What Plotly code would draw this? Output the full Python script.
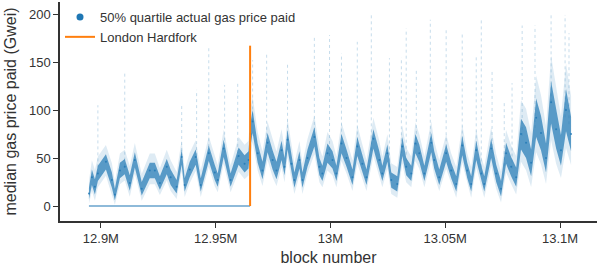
import numpy as np
import plotly.graph_objects as go

# block numbers (thousands) and typical median gas price (Gwei)
blocks_k = [12894.8, 12896.1, 12897.4, 12898.7, 12902.2, 12904.8, 12906.1, 12908.3, 12910.4, 12912.6,
            12914.8, 12917.8, 12921.3, 12923.5, 12925.7, 12928.7, 12930.4, 12933.0, 12935.2, 12936.5,
            12938.7, 12941.3, 12943.5, 12947.0, 12949.6, 12950.9, 12953.5, 12956.5, 12960.0, 12962.6,
            12964.3, 12965.2, 12966.1, 12968.3, 12970.4, 12972.6, 12974.8, 12976.5, 12978.7, 12980.0,
            12981.3, 12983.0, 12984.3, 12986.5, 12987.8, 12990.0, 12993.0, 12995.2, 12996.5, 12998.7,
            13000.9, 13002.6, 13004.8, 13007.0, 13009.6, 13011.7, 13013.9, 13015.7, 13018.7, 13021.3,
            13022.6, 13024.8, 13026.5, 13029.1, 13031.3, 13033.0, 13035.2, 13037.0, 13038.7, 13040.9,
            13043.9, 13045.2, 13047.4, 13050.4, 13052.6, 13054.8, 13057.4, 13059.6, 13061.3, 13063.5,
            13065.7, 13067.0, 13070.0, 13072.2, 13074.3, 13076.5, 13078.7, 13080.9, 13083.0, 13085.2,
            13087.4, 13089.6, 13091.7, 13093.9, 13096.1, 13098.3, 13100.4, 13102.6, 13104.8]
median_gwei = [13, 30, 20, 34, 46, 27, 12, 37, 41, 24,
               48, 18, 37, 37, 24, 41, 30, 20, 51, 22,
               38, 51, 22, 55, 35, 27, 60, 27, 52, 44,
               48, 75, 88, 55, 37, 66, 48, 37, 58, 41,
               69, 44, 27, 48, 27, 50, 72, 41, 34, 55,
               48, 34, 65, 50, 30, 62, 44, 30, 70, 48,
               34, 55, 27, 23, 62, 41, 34, 65, 55, 34,
               66, 48, 30, 55, 37, 23, 63, 37, 23, 58,
               34, 23, 60, 34, 18, 55, 41, 30, 75, 66,
               45, 92, 76, 50, 108, 80, 58, 100, 75]
spread_gwei = [6, 8, 8, 8, 8, 8, 6, 8, 8, 8,
               8, 7, 8, 8, 7, 8, 8, 7, 8, 7,
               8, 8, 7, 8, 8, 7, 9, 7, 9, 9,
               9, 12, 12, 10, 9, 10, 10, 9, 10, 9,
               10, 9, 8, 9, 8, 9, 10, 9, 8, 10,
               9, 8, 10, 9, 8, 10, 9, 8, 10, 9,
               8, 9, 8, 8, 10, 9, 8, 10, 9, 8,
               10, 9, 8, 9, 8, 8, 10, 8, 8, 10,
               8, 8, 10, 9, 8, 11, 10, 10, 16, 16,
               14, 20, 18, 15, 22, 20, 16, 22, 18]

# sparse upward streaks of individual blocks
spike_blocks_k = [12898.7, 12910.4, 12935.2, 12941.7, 12947.0, 12953.9, 12959.6, 12966.1, 12972.2, 12981.3,
                  12993.0, 12999.6, 13004.8, 13011.7, 13017.8, 13025.7, 13030.9, 13033.0, 13037.4, 13043.5,
                  13050.4, 13057.4, 13063.5, 13065.7, 13070.4, 13075.7, 13079.1, 13083.5, 13089.1, 13096.1,
                  13102.2, 13103.9]
spike_top_gwei = [105, 140, 107, 121, 165, 126, 130, 152, 159, 149,
                  176, 178, 159, 171, 199, 154, 155, 185, 142, 194,
                  183, 180, 157, 196, 142, 110, 128, 188, 188, 199,
                  199, 180]

# zero-price transactions before London
zero_blocks_k = [12894.8, 12965.0]
zero_gwei = [0, 0]

london_block_k = 12965.0
london_range_gwei = [0, 167]

tick_vals_k = [12900, 12950, 13000, 13050, 13100]
tick_text = ["12.9M", "12.95M", "13M", "13.05M", "13.1M"]

BLUE = "#1f77b4"
ORANGE = "#ff7f0e"

x = np.array(blocks_k) * 1000
med = np.array(median_gwei, dtype=float)
spr = np.array(spread_gwei, dtype=float)

fig = go.Figure()

# faint outer cloud
fig.add_trace(go.Scatter(x=x, y=med - 1.8 * spr, mode="lines", line=dict(width=0),
                         showlegend=False, hoverinfo="skip"))
fig.add_trace(go.Scatter(x=x, y=med + 2.2 * spr, mode="lines", line=dict(width=0),
                         fill="tonexty", fillcolor="rgba(31,119,180,0.15)",
                         showlegend=False, hoverinfo="skip"))

# streaks
sx, sy = [], []
for b, t in zip(spike_blocks_k, spike_top_gwei):
    base = float(np.interp(b * 1000, x, med))
    sx += [b * 1000, b * 1000, None]
    sy += [base, t, None]
fig.add_trace(go.Scatter(x=sx, y=sy, mode="lines",
                         line=dict(color="rgba(31,119,180,0.25)", width=1, dash="dot"),
                         showlegend=False, hoverinfo="skip"))

# dense core band
fig.add_trace(go.Scatter(x=x, y=med - spr, mode="lines", line=dict(width=0),
                         showlegend=False, hoverinfo="skip"))
fig.add_trace(go.Scatter(x=x, y=med + spr, mode="lines", line=dict(width=0),
                         fill="tonexty", fillcolor="rgba(31,119,180,0.7)",
                         showlegend=False, hoverinfo="skip"))

# zero line
fig.add_trace(go.Scatter(x=np.array(zero_blocks_k) * 1000, y=zero_gwei, mode="lines",
                         line=dict(color=BLUE, width=1.2), showlegend=False, hoverinfo="skip"))

# median series points
fig.add_trace(go.Scatter(x=x, y=med, mode="markers",
                         marker=dict(color=BLUE, size=2, opacity=0.8),
                         showlegend=False, hoverinfo="skip"))

# legend entries
fig.add_trace(go.Scatter(x=[None], y=[None], mode="markers",
                         marker=dict(color=BLUE, size=7),
                         name="50% quartile actual gas price paid"))

# London hardfork
fig.add_trace(go.Scatter(x=[london_block_k * 1000] * 2, y=london_range_gwei, mode="lines",
                         line=dict(color=ORANGE, width=2), name="London Hardfork"))

fig.update_layout(
    width=598, height=268,
    margin=dict(l=60, r=1, t=2, b=47),
    paper_bgcolor="white", plot_bgcolor="white",
    font=dict(family="Liberation Sans, Arial, sans-serif", size=13, color="#333"),
    legend=dict(x=0.0, y=1.0, xanchor="left", yanchor="top", bgcolor="rgba(0,0,0,0)",
                traceorder="normal", font=dict(size=13, color="#333"),
                tracegroupgap=0, itemwidth=30),
    showlegend=True,
)
fig.update_xaxes(range=[12882200, 13116100], tickvals=np.array(tick_vals_k) * 1000, ticktext=tick_text,
                 showgrid=False, zeroline=False, showline=True, linecolor="#333", linewidth=1.5,
                 ticks="outside", ticklen=5, tickcolor="#333",
                 title=dict(text="block number", font=dict(size=16, color="#333"), standoff=6))
fig.update_yaxes(range=[-15.6, 212.5], tickvals=[0, 50, 100, 150, 200],
                 showgrid=False, zeroline=False, showline=True, linecolor="#333", linewidth=1.5,
                 ticks="outside", ticklen=5, tickcolor="#333",
                 title=dict(text="median gas price paid (Gwei)", font=dict(size=16, color="#333"), standoff=8))

fig.write_html("out.html", config={"displayModeBar": False},
               post_script="document.body.style.margin='0';")
